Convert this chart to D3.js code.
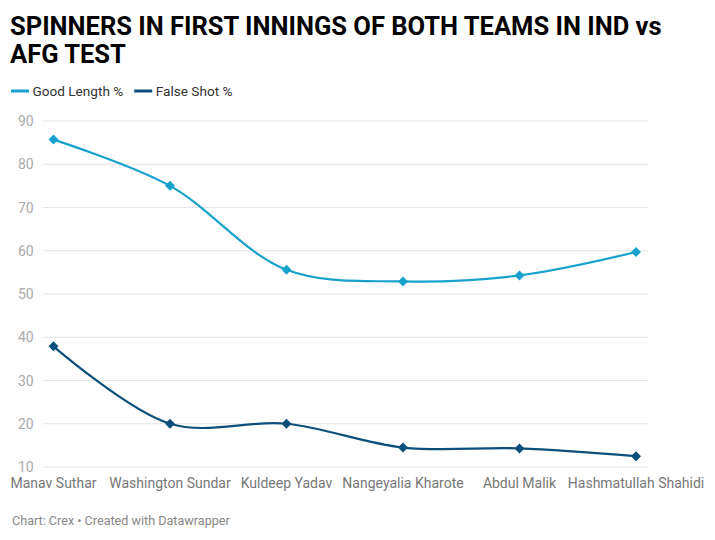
<!DOCTYPE html>
<html><head><meta charset="utf-8">
<script src="https://cdn.jsdelivr.net/npm/d3@7"></script>
<style>
body{margin:0;background:#fff;font-family:Roboto,"Noto Sans",sans-serif;}
</style></head>
<body><svg id="c" width="715" height="540"></svg>
<script>
const categories = ["Manav Suthar","Washington Sundar","Kuldeep Yadav","Nangeyalia Kharote","Abdul Malik","Hashmatullah Shahidi"];
const goodLength = [85.7, 75.0, 55.6, 52.9, 54.3, 59.7];
const falseShot = [37.9, 20.0, 20.0, 14.5, 14.3, 12.5];
const yTicks = [10,20,30,40,50,60,70,80,90];
const seriesNames = ["Good Length %","False Shot %"];
const colors = ["#18a1cd","#0b4f7a"];

const svg = d3.select("#c");
const x = d3.scalePoint().domain(categories).range([53.5, 636]);
const y = d3.scaleLinear().domain([10,90]).range([467,121]);

const title = ["SPINNERS IN FIRST INNINGS OF BOTH TEAMS IN IND vs","AFG TEST"];
svg.append("g").selectAll("text").data(title).join("text")
  .attr("x",10).attr("y",(d,i)=>35+i*27.5).attr("font-size",25.5).attr("font-weight",700).attr("fill","#000")
  .text(d=>d);

// legend
const lg = svg.append("g");
let lx = 11;
seriesNames.forEach((n,i)=>{
  lg.append("line").attr("x1",lx).attr("x2",lx+18).attr("y1",91).attr("y2",91).attr("stroke",colors[i]).attr("stroke-width",3);
  const t = lg.append("text").attr("x",lx+21.5).attr("y",96).attr("font-size",13.6).attr("fill","#333").text(n);
  lx += 21.5 + t.node().getComputedTextLength() + 11;
});

// grid
const grid = svg.append("g");
grid.selectAll("line").data(yTicks).join("line")
  .attr("x1",43).attr("x2",648).attr("y1",d=>y(d)).attr("y2",d=>y(d))
  .attr("stroke","#e6e6e6").attr("stroke-width",1);
grid.selectAll("text").data(yTicks).join("text")
  .attr("x",18).attr("y",d=>y(d)+5).attr("font-size",14).attr("fill","#aaa").text(d=>d);

// x labels
svg.append("g").selectAll("text").data(categories).join("text")
  .attr("x",d=>x(d)).attr("y",488).attr("text-anchor","middle").attr("font-size",14).attr("fill","#777").text(d=>d);

const line = d3.line().x((d,i)=>x(categories[i])).y(d=>y(d)).curve(d3.curveCatmullRom.alpha(0.5));
[goodLength,falseShot].forEach((s,i)=>{
  svg.append("path").attr("d",line(s)).attr("fill","none").attr("stroke",colors[i]).attr("stroke-width",2.2);
  svg.append("g").selectAll("path").data(s).join("path")
    .attr("d",d3.symbol(d3.symbolSquare,50))
    .attr("transform",(d,j)=>`translate(${x(categories[j])},${y(d)}) rotate(45)`)
    .attr("fill",colors[i]);
});

svg.append("text").attr("x",12).attr("y",525).attr("font-size",12.6).attr("fill","#888").text("Chart: Crex • Created with Datawrapper");
</script></body></html>
